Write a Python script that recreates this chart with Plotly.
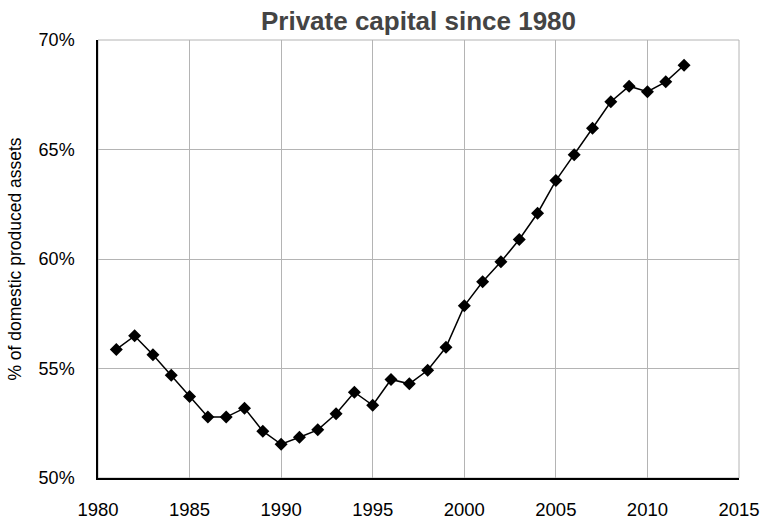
import plotly.graph_objects as go

years = list(range(1981, 2013))
private_capital_pct = [
    55.87, 56.49, 55.63, 54.69, 53.72, 52.78, 52.78, 53.19, 52.14, 51.54,
    51.86, 52.20, 52.93, 53.92, 53.32, 54.50, 54.30, 54.92, 55.97, 57.86,
    58.96, 59.87, 60.89, 62.09, 63.58, 64.76, 65.97, 67.18, 67.89, 67.64,
    68.09, 68.85,
]
x_ticks = [1980, 1985, 1990, 1995, 2000, 2005, 2010, 2015]
y_ticks = [50, 55, 60, 65, 70]

FONT = "Liberation Sans"
GRID = "#b4b4b4"

W, H = 761, 519

fig = go.Figure()
fig.add_trace(go.Scatter(
    x=years, y=private_capital_pct, mode="lines+markers",
    line=dict(color="black", width=1.5),
    marker=dict(symbol="diamond", size=10, color="black"),
    showlegend=False,
))

fig.add_shape(type="rect", xref="paper", yref="paper", x0=0, y0=0, x1=1, y1=1,
              line=dict(color=GRID, width=1), layer="below")

fig.update_layout(
    width=W, height=H,
    margin=dict(l=98, r=22, t=40, b=41),
    paper_bgcolor="white", plot_bgcolor="white",
    font=dict(family=FONT, size=18, color="black"),
    title=dict(text="<b>Private capital since 1980</b>", x=418.5 / W, xanchor="center",
               y=1 - 21 / H, yanchor="middle",
               font=dict(family=FONT, size=26, color="#444444")),
)
fig.update_xaxes(
    range=[1980, 2015], tickvals=x_ticks, ticktext=[str(v) for v in x_ticks],
    tickfont=dict(size=18.5),
    showgrid=True, gridcolor=GRID, gridwidth=1,
    showline=True, linecolor="black", linewidth=1.5,
    ticks="", ticklabelstandoff=14, zeroline=False, automargin=False,
)
fig.update_yaxes(
    range=[50, 70], tickvals=y_ticks, ticktext=[f"{v}%" for v in y_ticks],
    showgrid=True, gridcolor=GRID, gridwidth=1,
    showline=True, linecolor="black", linewidth=1.5,
    ticks="", ticklabelstandoff=18, zeroline=False, automargin=False,
    title=dict(text="% of domestic produced assets", standoff=12, font=dict(size=17.5)),
)

fig.write_html("out.html", config={"displayModeBar": False},
               post_script="document.body.style.margin='0';document.body.style.overflow='hidden';")
